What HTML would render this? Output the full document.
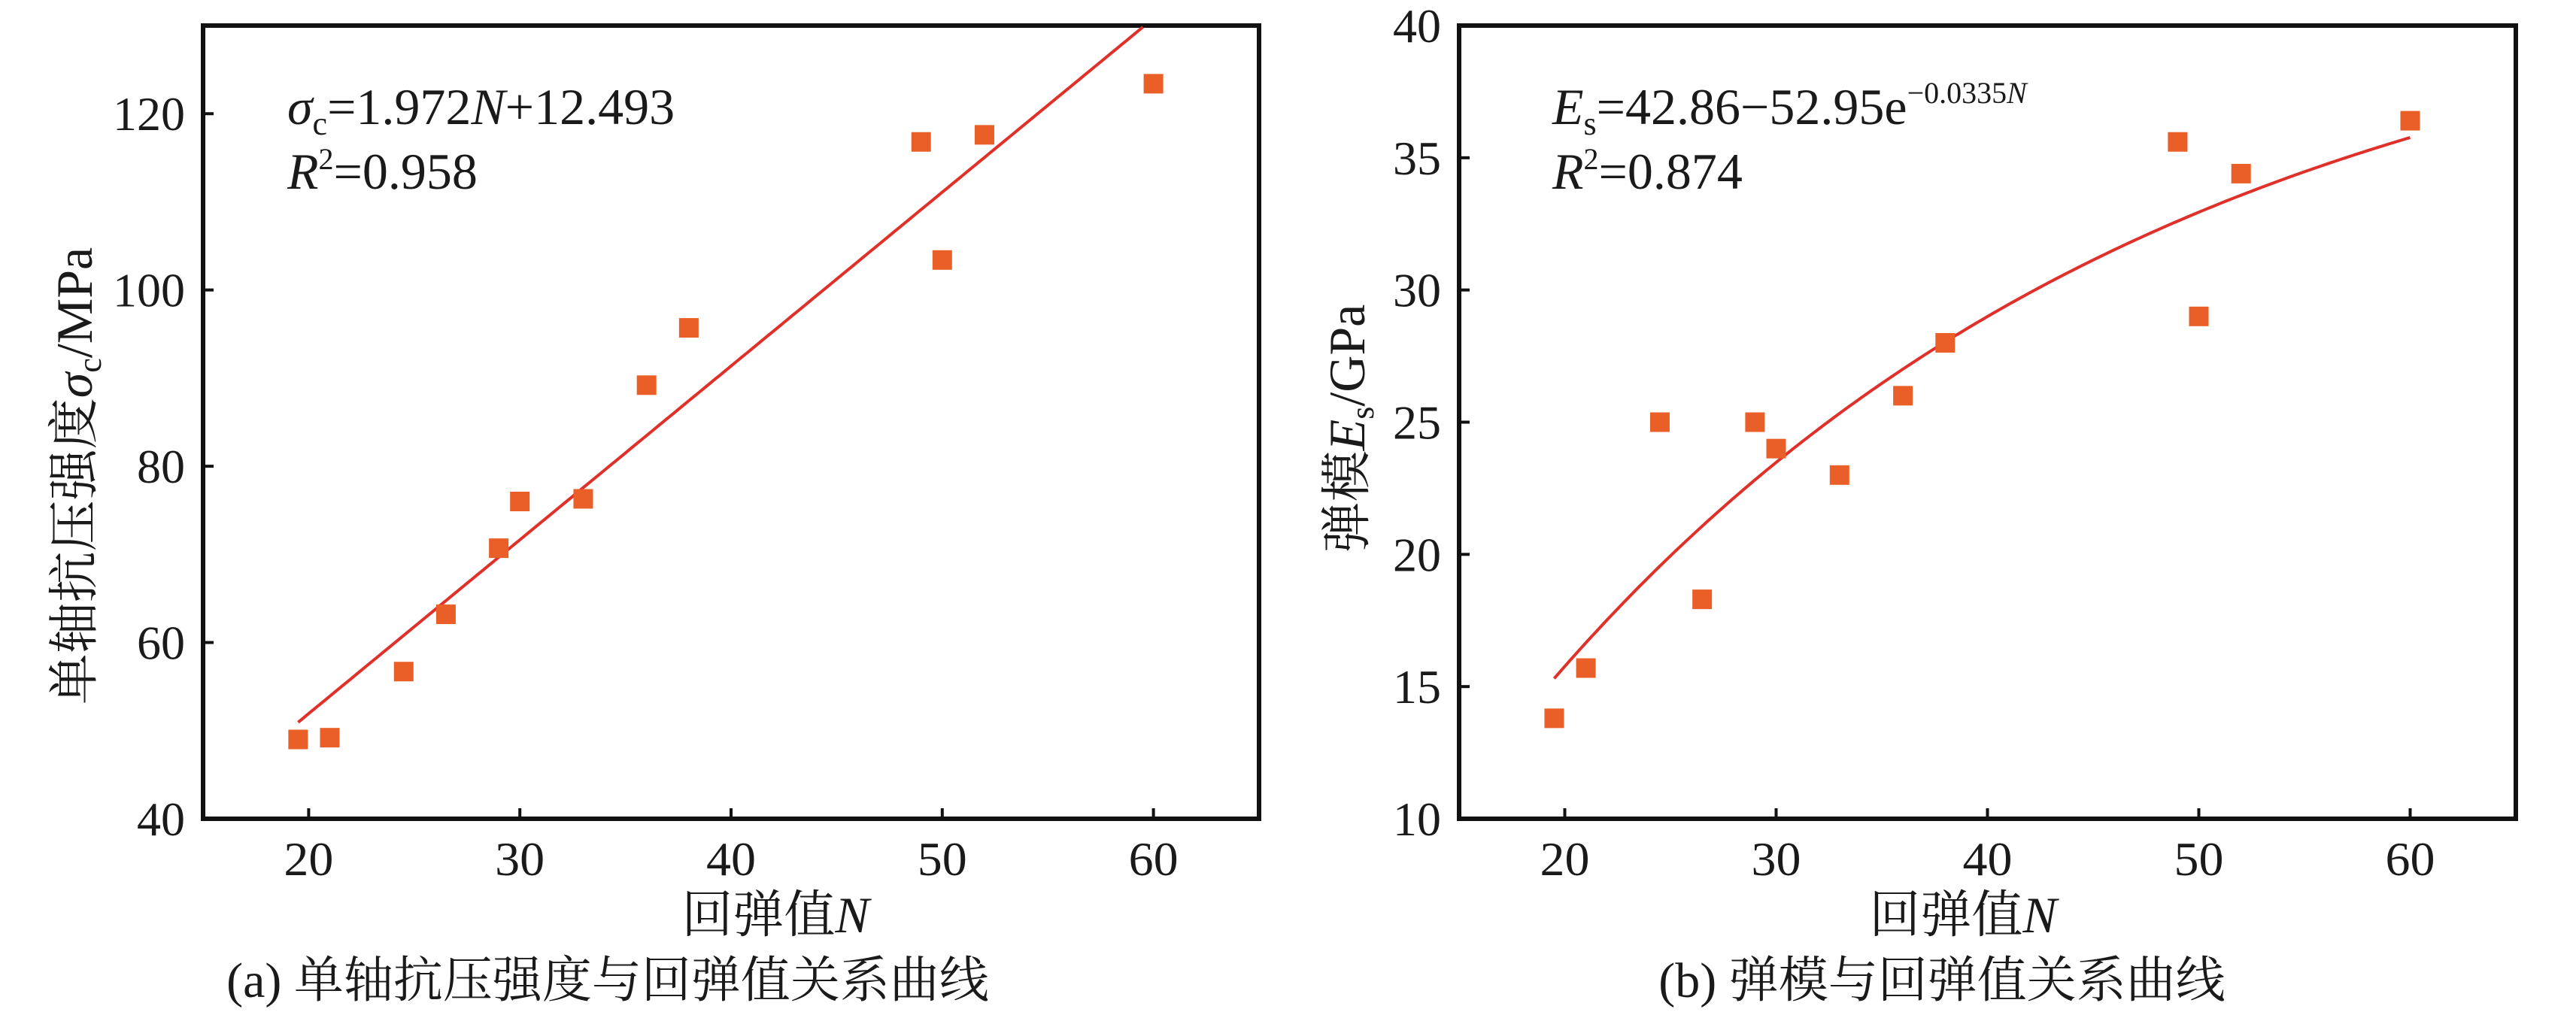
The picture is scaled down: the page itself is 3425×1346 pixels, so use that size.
<!DOCTYPE html>
<html><head><meta charset="utf-8"><style>
html,body{margin:0;padding:0;background:#fff;}
svg text{font-family:"Liberation Serif","Noto Serif CJK SC",serif;fill:#1a1a1a;}
</style></head><body>
<svg id="s" width="3425" height="1341" xmlns="http://www.w3.org/2000/svg"></svg>
<script>
const s=document.getElementById('s');let h='';
function panel(x0,x1,y0,y1,ymin,ymax,ytop,ystep,pts,fn,nEnd){
 const X=n=>x0+(n-15)/50*(x1-x0), Y=v=>y1-(v-ymin)/(ymax-ymin)*(y1-y0);
 h+=`<rect x="${x0}" y="${y0}" width="${x1-x0}" height="${y1-y0}" fill="none" stroke="#111" stroke-width="6"/>`;
 for(let n=20;n<=60;n+=10){const x=X(n);h+=`<line x1="${x}" y1="${y1}" x2="${x}" y2="${y1-14}" stroke="#111" stroke-width="4"/><text x="${x}" y="${y1+75}" font-size="64" text-anchor="middle" textLength="66" lengthAdjust="spacingAndGlyphs">${n}</text>`;}
 for(let v=ymin;v<=ytop;v+=ystep){const y=Y(v);h+=`<line x1="${x0}" y1="${y}" x2="${x0+14}" y2="${y}" stroke="#111" stroke-width="4"/><text x="${x0-24}" y="${y+22}" font-size="64" text-anchor="end">${v}</text>`;}
 let d='';for(let n=19.5;n<=nEnd+0.001;n+=0.25){d+=(d?'L':'M')+X(n).toFixed(1)+','+Y(fn(n)).toFixed(1);}
 h+=`<path d="${d}" fill="none" stroke="#e0302a" stroke-width="4"/>`;
 for(const [n,v] of pts){h+=`<rect x="${X(n)-13}" y="${Y(v)-13}" width="26" height="26" fill="#ea5f28"/>`;}
}
panel(270,1674,34,1089,40,130,120,20,[[19.5,49],[21,49.2],[24.5,56.7],[26.5,63.2],[29,70.7],[30,76],[33,76.3],[36,89.2],[38,95.7],[49,116.8],[50,103.4],[52,117.6],[60,123.4]],n=>1.972*n+12.493,59.55);
panel(1940,3345,34,1089,10,40,40,5,[[19.5,13.8],[21,15.7],[24.5,25],[26.5,18.3],[29,25],[30,24],[33,23],[36,26],[38,28],[49,35.6],[50,29],[52,34.4],[60,36.4]],n=>42.86-52.95*Math.exp(-0.0335*n),60);
h+=`<text x="382" y="165" font-size="68"><tspan font-style="italic">σ</tspan><tspan font-size="44" dy="14">c</tspan><tspan dy="-14">=1.972</tspan><tspan font-style="italic">N</tspan>+12.493</text>`;
h+=`<text x="382" y="251" font-size="68"><tspan font-style="italic">R</tspan><tspan font-size="40" dy="-26">2</tspan><tspan dy="26">=0.958</tspan></text>`;
h+=`<text x="2064" y="165" font-size="68"><tspan font-style="italic">E</tspan><tspan font-size="44" dy="14">s</tspan><tspan dy="-14">=42.86−52.95e</tspan><tspan font-size="40" dy="-28">−0.0335</tspan><tspan font-size="40" font-style="italic">N</tspan></text>`;
h+=`<text x="2064" y="251" font-size="68"><tspan font-style="italic">R</tspan><tspan font-size="40" dy="-26">2</tspan><tspan dy="26">=0.874</tspan></text>`;
h+=`<text x="1031" y="1240" font-size="68" text-anchor="middle">回弹值<tspan font-style="italic">N</tspan></text>`;
h+=`<text x="2610" y="1240" font-size="68" text-anchor="middle">回弹值<tspan font-style="italic">N</tspan></text>`;
h+=`<text x="808" y="1326" font-size="66" text-anchor="middle">(a) 单轴抗压强度与回弹值关系曲线</text>`;
h+=`<text x="2582" y="1326" font-size="66" text-anchor="middle">(b) 弹模与回弹值关系曲线</text>`;
h+=`<text transform="translate(122,633) rotate(-90)" font-size="68" text-anchor="middle">单轴抗压强度<tspan font-style="italic">σ</tspan><tspan font-size="44" dy="12">c</tspan><tspan dy="-12">/MPa</tspan></text>`;
h+=`<text transform="translate(1814,570) rotate(-90)" font-size="68" text-anchor="middle">弹模<tspan font-style="italic">E</tspan><tspan font-size="44" dy="12">s</tspan><tspan dy="-12">/GPa</tspan></text>`;
s.innerHTML=h;
</script>
</body></html>
